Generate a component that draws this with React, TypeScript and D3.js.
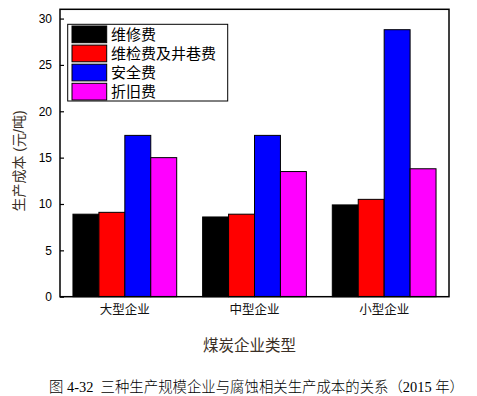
import React, { useRef, useEffect } from 'react';
import * as d3 from 'd3';

// 数据
const categories = ['大型企业', '中型企业', '小型企业'];
const seriesNames = ['维修费', '维检费及井巷费', '安全费', '折旧费'];
const seriesColors = ['#000000', '#ff0000', '#0000ff', '#ff00ff'];
const repairCost = [8.9, 8.6, 9.9];
const inspectCost = [9.1, 8.9, 10.5];
const safetyCost = [17.4, 17.4, 28.8];
const depreciationCost = [15.0, 13.5, 13.8];
const yTicks = [0, 5, 10, 15, 20, 25, 30];

const seriesValues = [repairCost, inspectCost, safetyCost, depreciationCost];

export default function App() {
  const svgRef = useRef<SVGSVGElement>(null);

  useEffect(() => {
    if (!svgRef.current) return;
    const svg = d3.select(svgRef.current);
    svg.selectAll('*').remove();

    const left = 60;
    const right = 449;
    const top = 9.3;
    const bottom = 296.7;
    const cjk = 'Arial, "Liberation Sans", "Noto Sans CJK SC", sans-serif';

    const x0 = d3.scaleBand<string>()
      .domain(categories)
      .range([left, right])
      .paddingInner(0.2)
      .paddingOuter(0.1);
    const x1 = d3.scaleBand<number>()
      .domain(d3.range(seriesNames.length))
      .range([0, x0.bandwidth()]);
    const y = d3.scaleLinear().domain([0, 31]).range([bottom, top]);

    // 柱子
    categories.forEach((c, i) => {
      seriesValues.forEach((vals, s) => {
        svg.append('rect')
          .attr('x', (x0(c) || 0) + (x1(s) || 0))
          .attr('y', y(vals[i]))
          .attr('width', x1.bandwidth())
          .attr('height', y(0) - y(vals[i]))
          .attr('fill', seriesColors[s])
          .attr('stroke', '#000')
          .attr('stroke-width', 1);
      });
    });

    // 边框
    svg.append('rect')
      .attr('x', left).attr('y', top)
      .attr('width', right - left).attr('height', bottom - top)
      .attr('fill', 'none').attr('stroke', '#000').attr('stroke-width', 1.5);

    // y轴
    const yAxis = svg.append('g')
      .attr('transform', `translate(${left},0)`)
      .call(d3.axisLeft(y).tickValues(yTicks).tickSizeInner(-4).tickSizeOuter(0).tickPadding(8));
    yAxis.select('.domain').remove();
    yAxis.selectAll('line').attr('stroke', '#000').attr('stroke-width', 1.2);
    yAxis.selectAll('text')
      .attr('font-family', cjk).attr('font-size', 12).attr('fill', '#000');

    // x轴标签
    categories.forEach(c => {
      svg.append('text')
        .attr('x', (x0(c) || 0) + x0.bandwidth() / 2)
        .attr('y', 314)
        .attr('text-anchor', 'middle')
        .attr('font-family', cjk).attr('font-size', 12.5).attr('fill', '#111')
        .text(c);
    });

    // 轴标题
    svg.append('text')
      .attr('transform', `translate(24,${(top + bottom) / 2 + 8}) rotate(-90)`)
      .attr('text-anchor', 'middle')
      .attr('font-family', cjk).attr('font-size', 14).attr('fill', '#3a2f25')
      .text('生产成本 (元/吨)');
    svg.append('text')
      .attr('x', 249.5).attr('y', 351)
      .attr('text-anchor', 'middle')
      .attr('font-family', cjk).attr('font-size', 15.5).attr('fill', '#3a2f25')
      .text('煤炭企业类型');

    // 图例
    const lg = svg.append('g');
    lg.append('rect')
      .attr('x', 67.7).attr('y', 24.3).attr('width', 160).attr('height', 76.7)
      .attr('fill', '#fff').attr('stroke', '#000').attr('stroke-width', 1);
    seriesNames.forEach((name, s) => {
      const ry = 26 + s * 19.1;
      lg.append('rect')
        .attr('x', 72).attr('y', ry).attr('width', 34.7).attr('height', 16.7)
        .attr('fill', seriesColors[s]).attr('stroke', '#000').attr('stroke-width', 1);
      lg.append('text')
        .attr('x', 111).attr('y', ry + 14)
        .attr('font-family', cjk).attr('font-size', 15).attr('fill', '#000')
        .text(name);
    });

    // 图题
    svg.append('text')
      .attr('x', 256.5).attr('y', 392)
      .attr('text-anchor', 'middle')
      .attr('font-family', '"Liberation Serif", "Noto Sans CJK SC", serif')
      .attr('font-size', 14.4).attr('fill', '#000')
      .attr('font-weight', 300)
      .attr('xml:space', 'preserve')
      .style('white-space', 'pre')
      .text('图 4-32  三种生产规模企业与腐蚀相关生产成本的关系（2015 年）');
  }, []);

  return (
    <svg ref={svgRef} width={477} height={396}
      style={{ position: 'absolute', left: 0, top: 0, background: '#fff' }} />
  );
}
